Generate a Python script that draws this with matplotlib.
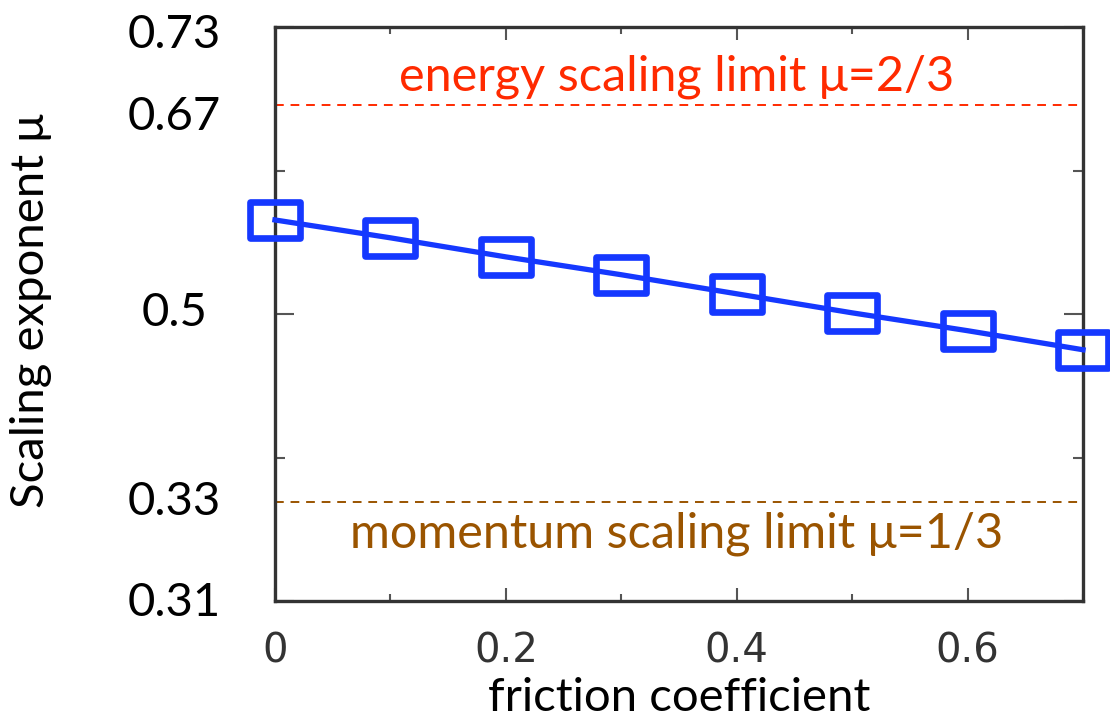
import matplotlib
matplotlib.use('Agg')
import matplotlib.pyplot as plt
import numpy as np
from matplotlib.path import Path
from matplotlib.ticker import FixedLocator, FixedFormatter

plt.rcParams['font.family'] = ['Lato', 'DejaVu Sans']

# Scaling exponent vs friction coefficient
friction = [0.0, 0.1, 0.2, 0.3, 0.4, 0.5, 0.6, 0.7]
exponent = [0.570, 0.555, 0.539, 0.524, 0.508, 0.492, 0.477, 0.461]

# theoretical limits
energy_limit = 2 / 3
momentum_limit = 1 / 3

xtick_vals = [0.0, 0.2, 0.4, 0.6]
xtick_labels = ['0', '0.2', '0.4', '0.6']
ytick_labels = ['0.73', '0.67', '0.5', '0.33', '0.31']

# view range
x_lo, x_hi = 0.0, 0.7
y_lo, y_hi = 0.25, 0.732

fig = plt.figure(figsize=(11.1, 7.21), dpi=100)
ax = fig.add_axes([0.2477, 0.1664, 0.728, 0.7961])
ax.set_xlim(x_lo, x_hi)
ax.set_ylim(y_lo, y_hi)

# open rectangle marker, a bit wider than tall
rect = Path([(-1, -0.745), (1, -0.745), (1, 0.745), (-1, 0.745), (-1, -0.745)],
            [Path.MOVETO, Path.LINETO, Path.LINETO, Path.LINETO, Path.CLOSEPOLY])

blue = '#1538ff'
ax.plot(friction, exponent, color=blue, lw=3.8, marker=rect, markersize=35.5,
        markerfacecolor='none', markeredgecolor=blue, markeredgewidth=4.8,
        clip_on=False, zorder=3)

red = '#ff2a00'
brown = '#9a5400'
ax.axhline(energy_limit, color=red, lw=1.4, ls=(0, (4.5, 3.5)), zorder=2)
ax.axhline(momentum_limit, color=brown, lw=1.4, ls=(0, (4.5, 3.5)), zorder=2)
ax.text(0.4975, 0.890, 'energy scaling limit μ=2/3', transform=ax.transAxes,
        color=red, fontsize=35, ha='center', va='baseline')
ax.text(0.4975, 0.094, 'momentum scaling limit μ=1/3', transform=ax.transAxes,
        color=brown, fontsize=35, ha='center', va='baseline')

# frame and ticks
for sp in ax.spines.values():
    sp.set_color('#333333')
    sp.set_linewidth(2.4)

ax.xaxis.set_major_locator(FixedLocator(xtick_vals))
ax.xaxis.set_major_formatter(FixedFormatter(xtick_labels))
ax.xaxis.set_minor_locator(FixedLocator([0.1, 0.3, 0.5, 0.7]))
ax.yaxis.set_major_locator(FixedLocator([y_lo, (y_lo + y_hi) / 2, y_hi]))
ax.yaxis.set_minor_locator(FixedLocator([y_lo + (y_hi - y_lo) / 4, y_lo + 3 * (y_hi - y_lo) / 4]))
ax.set_yticklabels([])

ax.tick_params(which='both', direction='in', top=True, right=True, color='#555555', width=1.5)
ax.tick_params(axis='x', which='major', length=9.5, pad=22,
               labelsize=29, labelcolor='#333333', labelfontfamily='DejaVu Sans')
ax.tick_params(axis='x', which='minor', length=5)
ax.tick_params(axis='y', which='major', length=14)
ax.tick_params(axis='y', which='minor', length=7)

# y labels sit next to the frame at their own heights
ylab_pos = [0.986, 0.843, 0.502, 0.172, -0.003]
for txt, yp in zip(ytick_labels, ylab_pos):
    ax.text(-0.124, yp, txt, transform=ax.transAxes, fontsize=34,
            ha='center', va='center', color='black')

ax.set_xlabel('friction coefficient', fontsize=34, labelpad=4)
ax.set_ylabel('Scaling exponent μ', fontsize=34)
ax.yaxis.set_label_coords(-0.276, 0.505)

fig.savefig('out.png', dpi=100)
